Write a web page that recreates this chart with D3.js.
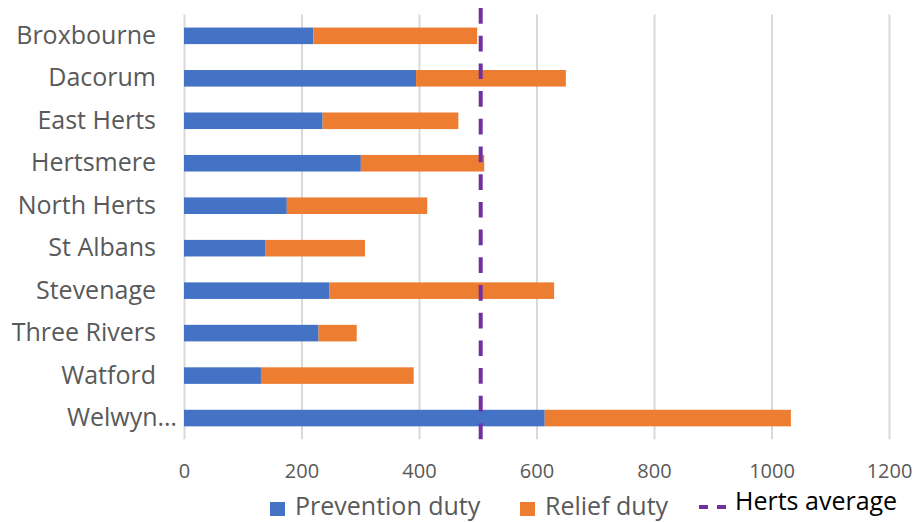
<!DOCTYPE html>
<html>
<head>
<meta charset="utf-8">
<script src="https://cdn.jsdelivr.net/npm/d3@7"></script>
<style>
  body { margin: 0; background: #fff; }
  text { font-family: "Open Sans", sans-serif; }
</style>
</head>
<body>
<div id="grafica"></div>
<script>
// datos
var districts = ["Broxbourne", "Dacorum", "East Herts", "Hertsmere", "North Herts",
                 "St Albans", "Stevenage", "Three Rivers", "Watford", "Welwyn\u2026"];
var prevention = [220, 395, 236, 301, 175, 138, 247, 229, 131, 614];
var relief     = [279, 255, 231, 210, 239, 170, 383, 65, 260, 419];
var hertsAverage = 505;
var xTicks = [0, 200, 400, 600, 800, 1000, 1200];

var width = 917, height = 522;
var plot = {left: 184, right: 889, top: 14.6, bottom: 439.3};

var svg = d3.select("#grafica")
  .append("svg")
  .attr("width", width)
  .attr("height", height);

var x = d3.scaleLinear()
  .domain([0, 1200])
  .range([plot.left, plot.right]);

var y = d3.scaleBand()
  .domain(districts)
  .range([plot.top, plot.bottom])
  .paddingInner(0.61)
  .paddingOuter(0.305);

// rejilla y etiquetas eje x
var xAxis = svg.append("g")
  .attr("transform", "translate(0," + plot.bottom + ")")
  .call(d3.axisBottom(x).tickValues(xTicks).tickFormat(d3.format("d"))
    .tickSize(-(plot.bottom - plot.top)));
xAxis.select(".domain").remove();
xAxis.selectAll("line")
  .attr("stroke", "#d9d9d9")
  .attr("stroke-width", 2);
xAxis.selectAll("text")
  .attr("y", 39)
  .attr("dy", 0)
  .attr("fill", "#595959")
  .style("font-size", "20px")
  .style("font-family", "'Open Sans', sans-serif");

// etiquetas eje y
svg.append("g").selectAll("text")
  .data(districts)
  .enter()
  .append("text")
  .attr("x", function(d) { return d.indexOf("\u2026") >= 0 ? 177 : 156; })
  .attr("y", function(d) { return y(d) + y.bandwidth() / 2 + 8; })
  .attr("text-anchor", "end")
  .attr("fill", "#595959")
  .style("font-size", "25px")
  .text(function(d) { return d; });

// barras apiladas
var rows = districts.map(function(d, i) {
  return {name: d, prevention: prevention[i], relief: relief[i]};
});
var stack = d3.stack().keys(["prevention", "relief"])(rows);
var colors = {prevention: "#4472C4", relief: "#ED7D31"};

svg.append("g").selectAll("g")
  .data(stack)
  .enter()
  .append("g")
  .attr("fill", function(s) { return colors[s.key]; })
  .selectAll("rect")
  .data(function(s) { return s; })
  .enter()
  .append("rect")
  .attr("x", function(d) { return x(d[0]); })
  .attr("y", function(d) { return y(d.data.name); })
  .attr("width", function(d) { return x(d[1]) - x(d[0]); })
  .attr("height", y.bandwidth());

// linea promedio
svg.append("line")
  .attr("x1", x(hertsAverage))
  .attr("x2", x(hertsAverage))
  .attr("y1", 8)
  .attr("y2", 444)
  .attr("stroke", "#7030A0")
  .attr("stroke-width", 4)
  .attr("stroke-dasharray", "15.7,12");

// leyenda
var leg = svg.append("g");
leg.append("rect").attr("x", 270).attr("y", 502).attr("width", 15).attr("height", 14).attr("fill", colors.prevention);
leg.append("text").attr("x", 295).attr("y", 515).attr("fill", "#595959").style("font-size", "25px").text("Prevention duty");
leg.append("rect").attr("x", 520).attr("y", 502).attr("width", 15).attr("height", 14).attr("fill", colors.relief);
leg.append("text").attr("x", 545).attr("y", 515).attr("fill", "#595959").style("font-size", "25px").text("Relief duty");
leg.append("line").attr("x1", 699).attr("x2", 727).attr("y1", 507).attr("y2", 507)
  .attr("stroke", "#7030A0").attr("stroke-width", 4).attr("stroke-dasharray", "9,9");
leg.append("text").attr("x", 735).attr("y", 510).attr("fill", "#000").style("font-size", "25px").text("Herts average");
</script>
</body>
</html>
